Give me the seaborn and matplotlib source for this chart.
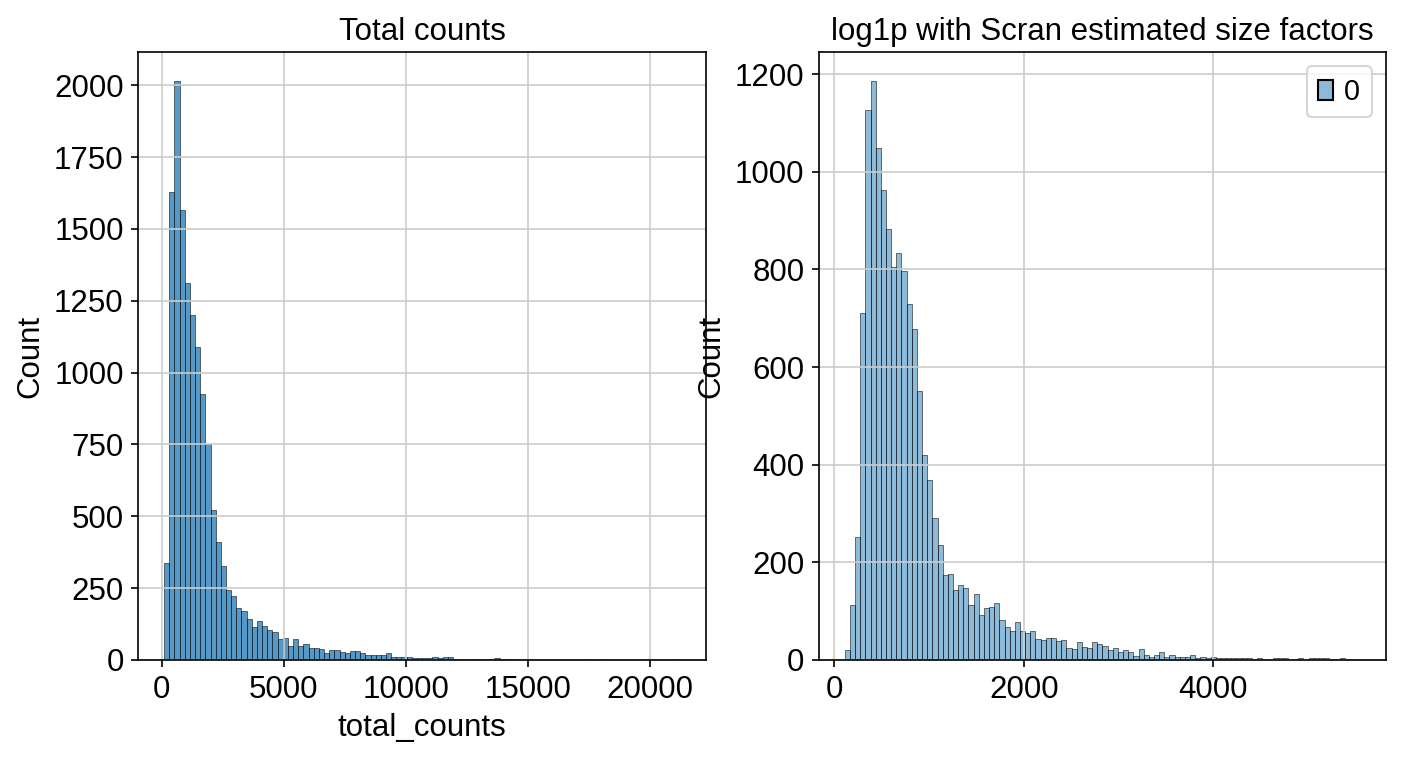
import numpy as np
import pandas as pd
import matplotlib
matplotlib.use("Agg")
import matplotlib.pyplot as plt
import seaborn as sns

FONTSIZE = 15

# scanpy-like figure params
plt.rcParams.update({
    "font.family": "sans-serif",
    "font.sans-serif": ["Liberation Sans", "DejaVu Sans"],
    "font.size": FONTSIZE,
    "axes.titlesize": FONTSIZE,
    "axes.labelsize": FONTSIZE,
    "xtick.labelsize": FONTSIZE,
    "ytick.labelsize": FONTSIZE,
    "legend.fontsize": 0.92 * FONTSIZE,
    "legend.handlelength": 0.5,
    "legend.handletextpad": 0.4,
    "axes.linewidth": 0.8,
    "axes.edgecolor": "black",
    "axes.facecolor": "white",
    "axes.grid": True,
    "grid.color": ".8",
    "patch.edgecolor": "black",
})

# total counts per cell, binned (100 bins)
tc_range = (90, 21240)
tc_counts = [336, 1628, 2015, 1566, 1312, 1201, 1089, 927, 752, 523,
             412, 326, 243, 222, 181, 170, 142, 114, 135, 120,
             104, 97, 72, 76, 48, 72, 49, 55, 41, 41,
             37, 23, 34, 34, 27, 23, 30, 30, 23, 16,
             16, 16, 16, 23, 9, 9, 9, 9, 6, 6,
             6, 6, 9, 6, 9, 9, 4, 4, 0, 4,
             4, 0, 4, 4, 6, 4, 4, 4, 4, 0,
             0, 0, 0, 0, 0, 0, 0, 0, 0, 0,
             0, 0, 4, 0, 0, 4, 0, 0, 0, 0,
             0, 0, 0, 4, 0, 0, 0, 0, 0, 4]

# summed log1p values after scran normalisation, binned (100 bins)
sc_range = (112, 5550)
sc_counts = [20, 112, 251, 711, 1126, 1186, 1049, 963, 882, 805,
             834, 796, 729, 678, 551, 420, 369, 290, 235, 174,
             176, 144, 153, 147, 112, 135, 92, 106, 108, 117,
             81, 67, 59, 78, 60, 56, 60, 42, 40, 46,
             46, 38, 40, 25, 23, 36, 27, 25, 36, 33,
             29, 21, 25, 17, 21, 17, 9, 23, 11, 7,
             11, 17, 7, 11, 7, 7, 7, 11, 5, 7,
             4, 7, 5, 4, 5, 5, 5, 4, 4, 0,
             4, 0, 0, 4, 5, 4, 0, 0, 5, 0,
             4, 4, 4, 4, 0, 0, 4, 0, 0, 1]
sc_xticks = [0, 2000, 4000]


def binned_frame(rng, counts, name):
    edges = np.linspace(rng[0], rng[1], len(counts) + 1)
    centers = (edges[:-1] + edges[1:]) / 2
    return pd.DataFrame({name: centers, "w": counts})


tc_df = binned_frame(tc_range, tc_counts, "total_counts")
sc_df = binned_frame(sc_range, sc_counts, "value")
sc_df["grp"] = "0"

fig = plt.figure(figsize=(1402 / 150, 758 / 150), dpi=150)
ax1 = fig.add_axes([0.0986, 0.1293, 0.405, 0.802])
ax2 = fig.add_axes([0.5842, 0.1293, 0.4043, 0.802])

sns.histplot(data=tc_df, x="total_counts", weights="w",
             bins=len(tc_counts), binrange=tc_range, ax=ax1)
ax1.set_title("Total counts")

sns.histplot(data=sc_df, x="value", weights="w", hue="grp",
             bins=len(sc_counts), binrange=sc_range, ax=ax2)
ax2.set_xticks(sc_xticks)
ax2.set_xlabel("")
ax2.set_title("log1p with Scran estimated size factors")
sns.move_legend(ax2, "upper right", title=None)

fig.savefig("out.png", dpi=150)
